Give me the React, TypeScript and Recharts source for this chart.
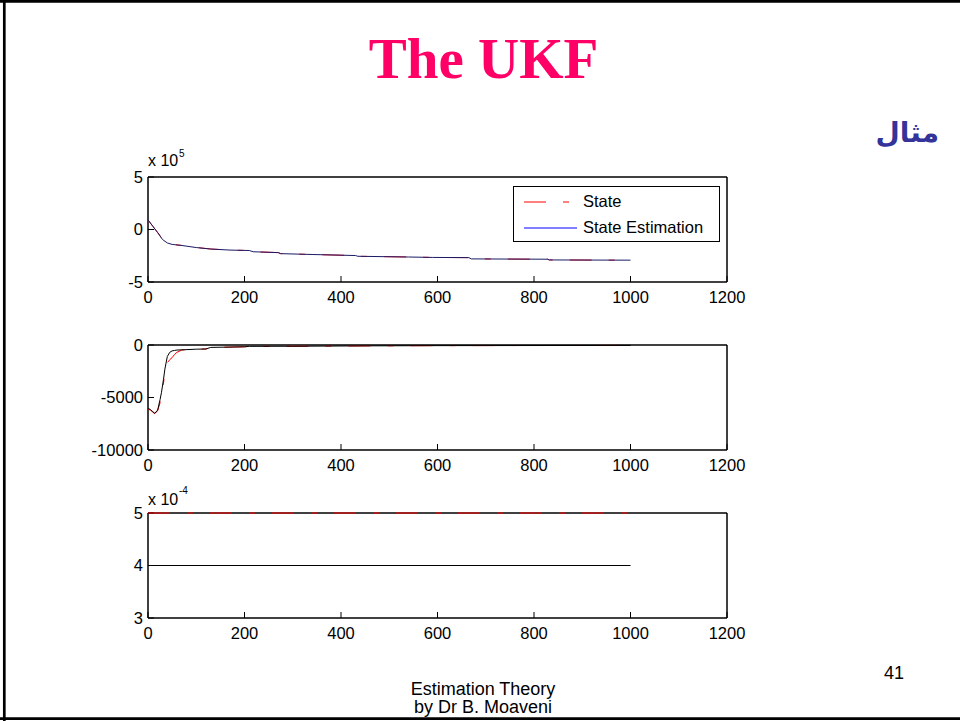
import { LineChart, Line, XAxis, YAxis, Legend } from 'recharts'

// shared x ticks for the three panels
const xTicks = [0, 200, 400, 600, 800, 1000, 1200]

// panel 1: state vs estimation (x 10^5)
const topX = [0, 10, 20, 30, 40, 50, 70, 100, 130, 170, 210, 218, 270, 275, 340, 430, 435, 540, 590, 665, 670, 828, 832, 1000]
const topState = [90000, 32000, -28000, -93000, -127000, -141000, -152000, -171000, -186000, -196000, -200000, -212000, -220000, -230000, -238000, -248000, -255000, -262000, -266000, -268000, -280000, -283000, -290000, -292000]
const topEst = [92000, 30000, -30000, -95000, -128000, -142000, -152000, -172000, -186000, -196000, -200000, -212000, -220000, -230000, -238000, -248000, -255000, -262000, -266000, -268000, -280000, -283000, -290000, -292000]
const topTicks = [-500000, 0, 500000]

// panel 2
const midX = [0, 5, 10, 14, 20, 25, 28, 32, 35, 40, 45, 50, 55, 60, 70, 100, 120, 130, 200, 210, 300, 470, 600, 1000]
const midState = [-6100, -6200, -6400, -6550, -6250, -5500, -4800, -3700, -2500, -1700, -1400, -1200, -900, -700, -480, -400, -380, -240, -170, -140, -120, -80, -60, -40]
const midEst = [-6030, -6150, -6350, -6500, -6200, -5200, -4500, -3300, -2300, -1100, -700, -560, -520, -480, -460, -400, -380, -230, -170, -130, -120, -80, -60, -40]
const midTicks = [-10000, -5000, 0]

// panel 3 (x 10^-4)
const botX = [0, 1000]
const botState = [5e-4, 5e-4]
const botEst = [4e-4, 4e-4]
const botTicks = [3e-4, 4e-4, 5e-4]

const seriesNames = ['State', 'State Estimation']

const zip = (xs: number[], a: number[], b: number[]) => xs.map((x, i) => ({ x, state: a[i], est: b[i] }))

const tickFont = { fontSize: 16.5, fontFamily: 'Liberation Sans, Arial, sans-serif', fill: '#000' }
const axisLine = { stroke: '#000', strokeWidth: 1.5 }
const tickLine = { stroke: '#000', strokeWidth: 1 }

function LegendBox() {
  return (
    <div style={{ width: 205, height: 54, border: '1px solid #000', background: '#fff', position: 'relative', fontFamily: 'Liberation Sans, Arial, sans-serif', fontSize: 16.5 }}>
      <svg width={70} height={54} style={{ position: 'absolute', left: 0, top: 0 }}>
        <line x1={10} x2={58} y1={15} y2={15} stroke="#ff0000" strokeDasharray="22 17 6 17" />
        <line x1={10} x2={63} y1={41} y2={41} stroke="#0000ff" />
      </svg>
      <div style={{ position: 'absolute', left: 69, top: 5 }}>{seriesNames[0]}</div>
      <div style={{ position: 'absolute', left: 69, top: 31 }}>{seriesNames[1]}</div>
    </div>
  )
}

interface PanelProps {
  top: number
  data: { x: number; state: number; est: number }[]
  domain: [number, number]
  ticks: number[]
  fmt: (v: number) => string
  legend?: boolean
  estColor: string
}

const W = 960
const H = 170
const M = { top: 17, right: 223, bottom: 8, left: 0 }

// axes go in one chart, the lines in a second one laid over it so they sit above the box (matlab style)
function Panel({ top, data, domain, ticks, fmt, legend, estColor }: PanelProps) {
  return (
    <>
      <div style={{ position: 'absolute', left: 0, top }}>
        <LineChart width={W} height={H} data={data} margin={M}>
          <XAxis dataKey="x" type="number" domain={[0, 1200]} ticks={xTicks} interval={0} height={30} allowDataOverflow
            tickSize={-6} tickMargin={15} tick={tickFont} axisLine={axisLine} tickLine={tickLine} />
          <XAxis xAxisId="top" orientation="top" dataKey="x" type="number" domain={[0, 1200]} ticks={xTicks} interval={0} height={10} allowDataOverflow
            tickSize={-6} tick={false} axisLine={axisLine} tickLine={tickLine} />
          <YAxis dataKey="est" type="number" domain={domain} ticks={ticks} interval={0} width={148} allowDataOverflow
            tickSize={-6} tickMargin={11} tick={tickFont} tickFormatter={fmt} axisLine={axisLine} tickLine={tickLine} />
          <YAxis yAxisId="right" dataKey="est" orientation="right" type="number" domain={domain} ticks={ticks} interval={0} width={10} allowDataOverflow
            tickSize={-6} tick={false} axisLine={axisLine} tickLine={tickLine} />
        </LineChart>
      </div>
      <div style={{ position: 'absolute', left: 0, top }}>
        <LineChart width={W} height={H} data={data}
          margin={{ top: M.top + 10, right: M.right + 10, bottom: M.bottom + 30, left: 148 }}>
          <XAxis dataKey="x" type="number" domain={[0, 1200]} hide />
          <YAxis type="number" domain={domain} hide />
          <Line dataKey="state" name={seriesNames[0]} stroke="#ff0000" strokeWidth={1} strokeDasharray="22 17 6 17" dot={false} isAnimationActive={false} />
          <Line dataKey="est" name={seriesNames[1]} stroke={estColor} strokeWidth={1} dot={false} isAnimationActive={false} />
          {legend && (
            <Legend layout="vertical" align="center" verticalAlign="middle" content={() => <LegendBox />}
              wrapperStyle={{ left: 513, top: 36, width: 'auto', height: 'auto' }} />
          )}
        </LineChart>
      </div>
    </>
  )
}

export default function App() {
  return (
    <div style={{ position: 'absolute', left: 0, top: 0, width: 960, height: 721, background: '#fff', overflow: 'hidden' }}>
      <svg width={960} height={721} style={{ position: 'absolute', left: 0, top: 0 }}>
        <line x1={0} x2={960} y1={1.3} y2={1.3} stroke="#000" strokeWidth={2.7} />
        <line x1={4.3} x2={4.3} y1={0} y2={721} stroke="#000" strokeWidth={2.7} />
        <line x1={0} x2={960} y1={718.6} y2={718.6} stroke="#000" strokeWidth={2.7} />
        <text x={483.5} y={78} textAnchor="middle" fill="#ff0066" fontFamily="Liberation Serif, Times New Roman, serif" fontWeight="bold" fontSize={57}>The UKF</text>
        <text x={939} y={142} textAnchor="end" fill="#333399" fontFamily="DejaVu Sans, sans-serif" fontWeight="bold" fontSize={28}>مثال</text>
        <g fontFamily="Liberation Sans, Arial, sans-serif" fill="#000">
          <text x={148} y={166} fontSize={16}>x 10</text>
          <text x={179} y={157} fontSize={10}>5</text>
          <text x={148} y={505} fontSize={16}>x 10</text>
          <text x={179} y={494} fontSize={10}>-4</text>
          <text x={884} y={679} fontSize={18}>41</text>
          <text x={483} y={694.5} fontSize={18} textAnchor="middle">Estimation Theory</text>
          <text x={483} y={713} fontSize={18} textAnchor="middle">by Dr B. Moaveni</text>
        </g>
      </svg>
      <Panel top={150} data={zip(topX, topState, topEst)} domain={[-500000, 500000]} ticks={topTicks}
        fmt={(v) => String(v / 100000)} legend estColor="#1a1a66" />
      <Panel top={318} data={zip(midX, midState, midEst)} domain={[-10000, 0]} ticks={midTicks}
        fmt={(v) => String(v)} estColor="#000" />
      <Panel top={486} data={zip(botX, botState, botEst)} domain={[3e-4, 5e-4]} ticks={botTicks}
        fmt={(v) => String(Math.round(v * 10000))} estColor="#000" />
    </div>
  )
}
